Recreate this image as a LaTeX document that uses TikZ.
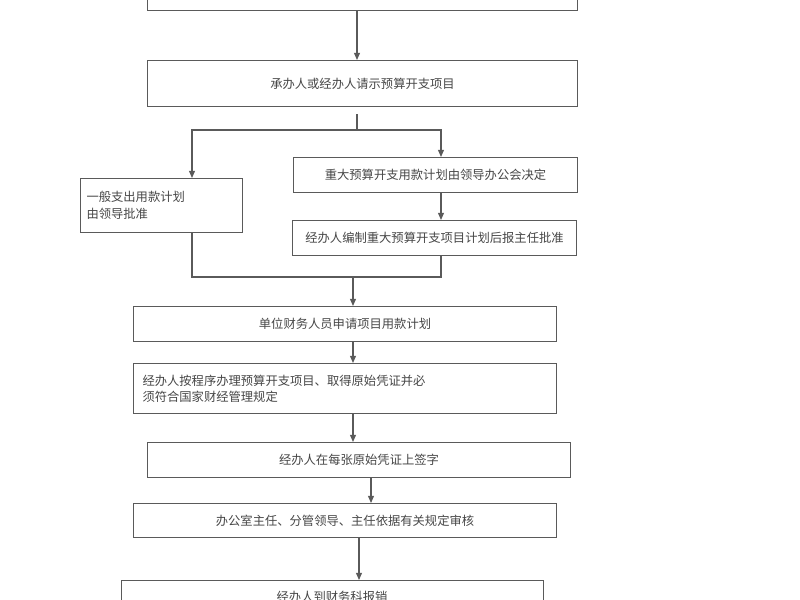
\documentclass[tikz,border=0pt]{standalone}
\usepackage{fontspec}
\newfontfamily\cjk{Noto Sans CJK SC}
\usetikzlibrary{arrows.meta,positioning,calc}
\definecolor{boxline}{RGB}{90,90,90}
\definecolor{boxtext}{RGB}{70,70,70}

\begin{document}
\begin{tikzpicture}[
    x=0.3mm, y=-0.3mm,
    every node/.style={font=\cjk\fontsize{10.5}{14}\selectfont, text=boxtext},
    stepbox/.style={draw=boxline, line width=0.9pt, fill=white, inner sep=0pt, anchor=north west},
    arrow/.style={-{Triangle[length=6pt,width=5pt]}, line width=0.9pt, draw=boxline},
    link/.style={line width=0.9pt, draw=boxline},
]
\useasboundingbox (0,0) rectangle (800,600);

% Boxes
\node[stepbox, minimum width=430*0.3mm, minimum height=30*0.3mm] (top) at (147,-20) {};
\node[stepbox, minimum width=430*0.3mm, minimum height=46*0.3mm] (ask) at (147,60) {承办人或经办人请示预算开支项目};
\node[stepbox, minimum width=162*0.3mm, minimum height=54*0.3mm, align=left, text width=150*0.3mm] (general) at (80,178) {一般支出用款计划\\由领导批准};
\node[stepbox, minimum width=284*0.3mm, minimum height=35*0.3mm] (major) at (293,157) {重大预算开支用款计划由领导办公会决定};
\node[stepbox, minimum width=284*0.3mm, minimum height=35*0.3mm] (draft) at (292,220) {经办人编制重大预算开支项目计划后报主任批准};
\node[stepbox, minimum width=423*0.3mm, minimum height=35*0.3mm] (apply) at (133,306) {单位财务人员申请项目用款计划};
\node[stepbox, minimum width=423*0.3mm, minimum height=50*0.3mm, align=left, text width=405*0.3mm] (handle) at (133,363) {经办人按程序办理预算开支项目、取得原始凭证并必\\须符合国家财经管理规定};
\node[stepbox, minimum width=423*0.3mm, minimum height=35*0.3mm] (sign) at (147,442) {经办人在每张原始凭证上签字};
\node[stepbox, minimum width=423*0.3mm, minimum height=34*0.3mm] (audit) at (133,503) {办公室主任、分管领导、主任依据有关规定审核};
\node[stepbox, minimum width=422*0.3mm, minimum height=40*0.3mm] (claim) at (121,580) {};
\node (claimtext) at (332,597) {经办人到财务科报销};

% Branch points
\coordinate (split) at (357,130);
\coordinate (merge) at (353,277);

% Connectors
\draw[arrow] (top.south -| 357,0) -- (ask.north -| 357,0);
\draw[link] (ask.south -| 357,0) ++(0,7) -- (split);
\draw[arrow] (split) -| (general.north -| 192,0);
\draw[arrow] (split) -| (major.north -| 441,0);
\draw[arrow] (major.south -| 441,0) -- (draft.north -| 441,0);
\draw[link] (general.south -| 192,0) |- (merge);
\draw[link] (draft.south -| 441,0) |- (merge);
\draw[arrow] (merge) -- (apply.north -| merge);
\draw[arrow] (apply.south -| 353,0) -- (handle.north -| 353,0);
\draw[arrow] (handle.south -| 353,0) -- (sign.north -| 353,0);
\draw[arrow] (sign.south -| 371,0) -- (audit.north -| 371,0);
\draw[arrow] (audit.south -| 359,0) -- (claim.north -| 359,0);

\end{tikzpicture}
\end{document}
